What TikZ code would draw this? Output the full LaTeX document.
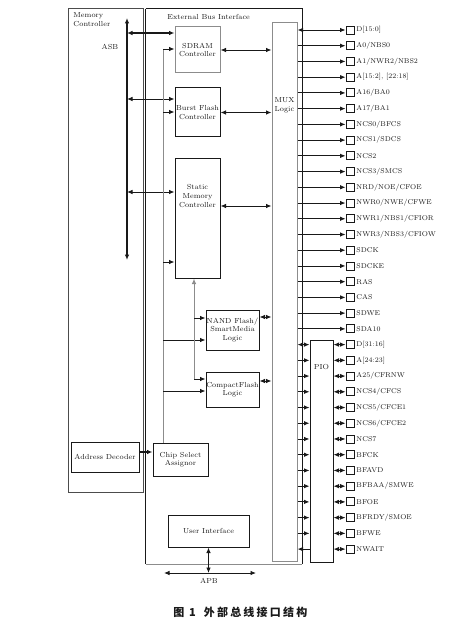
\documentclass[tikz,border=0pt]{standalone}
\usepackage{fontspec}
\newfontfamily\cjk[LetterSpace=20]{Noto Sans CJK SC}
\usetikzlibrary{arrows.meta}
\definecolor{ln}{gray}{0.1}
\definecolor{gl}{gray}{0.55}
\begin{document}
\begin{tikzpicture}[x=1pt,y=-1pt,line width=0.9pt,draw=ln,
  every node/.style={font=\fontsize{7.3}{8.6}\selectfont,inner sep=0pt,text=ln},
  box/.style={draw=ln,line width=1pt,align=center},
  gbox/.style={draw=gl,line width=1pt,align=center},
  pinbox/.style={draw=ln,minimum size=8pt,line width=0.9pt},
  ar/.style={-{Latex[length=5.5pt,width=4.5pt]}},
  ra/.style={{Latex[length=5.5pt,width=4.5pt]}-},
  dar/.style={{Latex[length=5.5pt,width=4.5pt]}-{Latex[length=5.5pt,width=4.5pt]}},
]
\useasboundingbox (0,0) rectangle (459,639);
% frames
\node[box,draw=black!70,minimum width=75pt,minimum height=483pt] (mc) at (105.5,250.5) {};
\node[minimum width=156pt,minimum height=555pt] (ebi) at (224,286.5) {};
\draw[gl,line width=1pt] (ebi.south west) -- (ebi.south east);
\draw[line width=1pt] (ebi.north west) -- (ebi.north east) -- (ebi.south east);
\draw[line width=1.7pt] (ebi.north west) -- (ebi.south west);
\node[anchor=north west,align=left] (mctxt) at (73,12) {Memory\\Controller};
\node[anchor=west] (ebitxt) at (167,17) {External Bus Interface};
% boxes
\node[gbox,minimum width=45pt,minimum height=46pt] (sdram) at (197.5,50) {SDRAM\\Controller};
\node[box,minimum width=45pt,minimum height=49pt] (burst) at (197.5,112.5) {Burst Flash\\Controller};
\node[box,minimum width=45pt,minimum height=119pt] (sm) at (197.5,218.5) {};
\node[align=center] (smtxt) at (197.5,196) {Static\\Memory\\Controller};
\node[box,minimum width=53pt,minimum height=40pt] (nand) at (232.5,330) {NAND Flash/\\SmartMedia\\Logic};
\node[box,minimum width=53pt,minimum height=35pt] (cf) at (232.5,389.5) {CompactFlash\\Logic};
\node[box,minimum width=55pt,minimum height=33pt] (csa) at (180.5,459.5) {Chip Select\\Assignor};
\node[box,minimum width=68pt,minimum height=30pt] (ad) at (105,457) {Address Decoder};
\node[box,minimum width=81pt,minimum height=32pt] (ui) at (208.5,531) {User Interface};
\node[gbox,minimum width=25pt,minimum height=538pt] (mux) at (284.5,292) {};
\node[align=center] (muxtxt) at (284.5,105) {MUX\\Logic};
\node[box,minimum width=23pt,minimum height=222pt] (pio) at (321.5,451) {};
\node (piotxt) at (321.5,367) {PIO};
% pins
\foreach \lbl [count=\i] in {{D[15:0]},{A0/NBS0},{A1/NWR2/NBS2},{A[15:2], [22:18]},{A16/BA0},{A17/BA1},{NCS0/BFCS},{NCS1/SDCS},{NCS2},{NCS3/SMCS},{NRD/NOE/CFOE},{NWR0/NWE/CFWE},{NWR1/NBS1/CFIOR},{NWR3/NBS3/CFIOW},{SDCK},{SDCKE},{RAS},{CAS},{SDWE},{SDA10},{D[31:16]},{A[24:23]},{A25/CFRNW},{NCS4/CFCS},{NCS5/CFCE1},{NCS6/CFCE2},{NCS7},{BFCK},{BFAVD},{BFBAA/SMWE},{BFOE},{BFRDY/SMOE},{BFWE},{NWAIT}} {
  \pgfmathsetmacro\yy{30+(\i-1)*15.73}
  \node[pinbox] (p\i) at (350,\yy) {};
  \node[anchor=west,font=\fontsize{7}{8.4}\selectfont] (l\i) at (356,\yy) {\lbl};
}
\draw[dar] (mux.east |- p1.west) -- (p1.west);
\foreach \i in {2,...,20} {\draw[ar] (mux.east |- p\i.west) -- (p\i.west);}
\foreach \i in {21,...,34} {\draw[dar] (pio.east |- p\i.west) -- (p\i.west);}
\draw[dar] (mux.east |- p21.west) -- (pio.west |- p21.west);
\foreach \i in {22,...,33} {\draw[ar] (mux.east |- p\i.west) -- (pio.west |- p\i.west);}
\draw[ra] (mux.east |- p34.west) -- (pio.west |- p34.west);
% ASB
\coordinate (asbT) at (127,18);
\coordinate (asbB) at (127,260);
\draw[dar,line width=1.5pt] (asbT) -- (asbB);
\node (asbtxt) at (110,47) {ASB};
\coordinate (asb1) at (127,33);
\coordinate (asb2) at (127,99);
\coordinate (asb3) at (127,192);
\draw[dar,line width=1.3pt] (asb1) -- (asb1 -| sdram.west);
\draw[dar] (asb2) -- (asb2 -| burst.west);
\draw[dar] (asb3) -- (asb3 -| sm.west);
% chip select bus
\coordinate (cs1) at (163,49);
\coordinate (cs2) at (163,112);
\coordinate (cs3) at (163,262);
\coordinate (cs4) at (163,340);
\coordinate (cs5) at (163,391);
\draw[gl,line width=1pt] (cs1) -- (cs1 |- csa.north);
\draw[ar] (cs1) -- (cs1 -| sdram.west);
\draw[ar] (cs2) -- (cs2 -| burst.west);
\draw[ar] (cs3) -- (cs3 -| sm.west);
\draw[ar] (cs4) -- (cs4 -| nand.west);
\draw[ar] (cs5) -- (cs5 -| cf.west);
% static memory branch
\coordinate (smB) at (194,379);
\coordinate (smN) at (194,318);
\draw[ar,gl,line width=1pt] (smB) -- (smB |- sm.south);
\draw[ar] (smN) -- (smN -| nand.west);
\draw[ar] (smB) -- (smB -| cf.west);
% to MUX
\coordinate (r3) at (0,206);
\coordinate (r4) at (0,317);
\coordinate (r5) at (0,381);
\draw[dar] (sdram.east) -- (sdram.east -| mux.west);
\draw[dar] (burst.east) -- (burst.east -| mux.west);
\draw[dar] (sm.east |- r3) -- (mux.west |- r3);
\draw[dar] (nand.east |- r4) -- (mux.west |- r4);
\draw[dar] (cf.east |- r5) -- (mux.west |- r5);
% address decoder
\coordinate (r6) at (0,452);
\draw[ar,line width=1.2pt] (ad.east |- r6) -- (csa.west |- r6);
% APB
\coordinate (apbL) at (164,573);
\coordinate (apbR) at (256,573);
\draw[dar] (apbL) -- (apbR);
\draw[dar] (ui.south) -- (ui.south |- apbL);
\node (apbtxt) at (209,581) {APB};
% caption
\node[anchor=west] (cap) at (173,612) {\cjk\bfseries\fontsize{11}{13}\selectfont 图 1\hspace{8pt}外部总线接口结构};
\end{tikzpicture}
\end{document}
